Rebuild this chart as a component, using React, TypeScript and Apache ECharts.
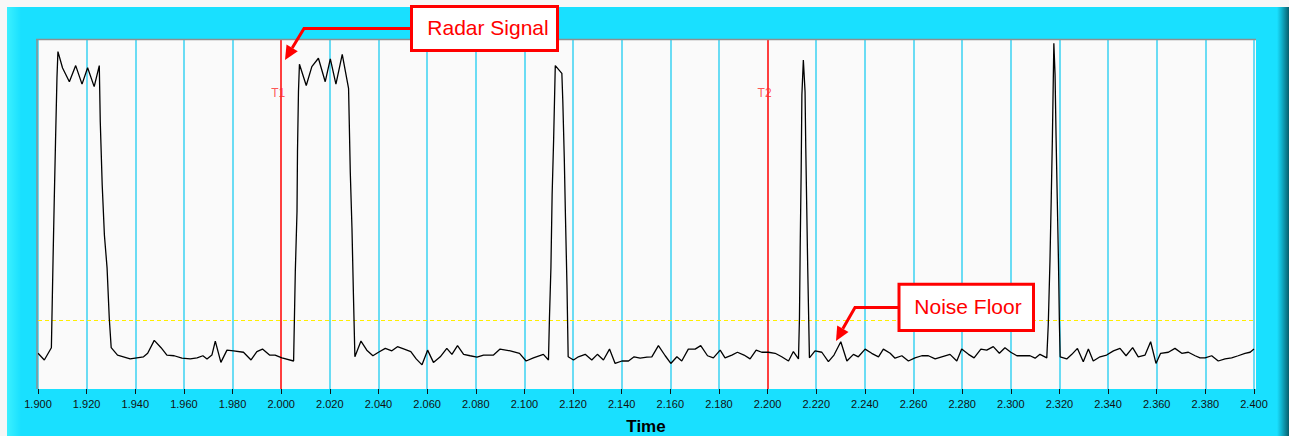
import React, { useEffect, useRef } from "react";
import * as echarts from "echarts";

// Sampled signal (time in s, amplitude in arbitrary units 0-100)
const TIME = [
  1.9, 1.9026, 1.9055, 1.9062, 1.9067, 1.9072, 1.9078, 1.9082, 1.9101, 1.9129,
  1.9155, 1.9181, 1.9204, 1.9231, 1.9252, 1.9256, 1.9264, 1.9273, 1.9284, 1.9293,
  1.9301, 1.9327, 1.9379, 1.9434, 1.9451, 1.9478, 1.9506, 1.953, 1.956, 1.9592,
  1.9626, 1.9654, 1.9678, 1.9695, 1.9715, 1.9729, 1.9752, 1.9777, 1.9804, 1.9845,
  1.9876, 1.99, 1.9923, 1.9952, 1.9975, 2.0003, 2.0051, 2.0058, 2.0065, 2.0067,
  2.0071, 2.0075, 2.0103, 2.0126, 2.0153, 2.0181, 2.0202, 2.0225, 2.0251, 2.0277,
  2.0284, 2.0291, 2.0297, 2.0303, 2.0328, 2.0352, 2.0377, 2.04, 2.0428, 2.0455,
  2.0478, 2.0506, 2.0533, 2.0555, 2.0579, 2.0602, 2.0626, 2.0654, 2.0681, 2.0702,
  2.0725, 2.075, 2.0777, 2.0805, 2.0832, 2.0873, 2.09, 2.0942, 2.098, 2.1007,
  2.1037, 2.1078, 2.1099, 2.1103, 2.1109, 2.1114, 2.112, 2.1127, 2.1154, 2.1158,
  2.1164, 2.1169, 2.1175, 2.118, 2.1202, 2.1222, 2.125, 2.1277, 2.13, 2.1325,
  2.135, 2.1373, 2.1401, 2.1428, 2.1451, 2.1476, 2.1504, 2.1524, 2.1551, 2.1579,
  2.1602, 2.1627, 2.1647, 2.1674, 2.1702, 2.1725, 2.1753, 2.1777, 2.1805, 2.1825,
  2.1853, 2.1876, 2.1903, 2.1928, 2.1953, 2.1976, 2.2003, 2.2031, 2.2058, 2.2086,
  2.2106, 2.2127, 2.2131, 2.2134, 2.2138, 2.2141, 2.2147, 2.2154, 2.2157, 2.2161,
  2.2165, 2.2172, 2.2195, 2.2223, 2.225, 2.2273, 2.2301, 2.2326, 2.2353, 2.2373,
  2.2401, 2.2428, 2.2456, 2.2476, 2.2504, 2.2524, 2.2552, 2.2579, 2.2606, 2.2634,
  2.2661, 2.2689, 2.2716, 2.275, 2.2778, 2.2798, 2.2826, 2.2849, 2.2877, 2.2901,
  2.2928, 2.2953, 2.2976, 2.3, 2.3025, 2.3052, 2.3079, 2.31, 2.312, 2.3148,
  2.3154, 2.3161, 2.3166, 2.3171, 2.3177, 2.3182, 2.3186, 2.3191, 2.3196, 2.32,
  2.3203, 2.323, 2.3251, 2.3274, 2.3298, 2.3319, 2.3339, 2.3367, 2.3394, 2.3422,
  2.3449, 2.3474, 2.3501, 2.3524, 2.3552, 2.3575, 2.3597, 2.3616, 2.3648, 2.3675,
  2.3703, 2.373, 2.3758, 2.3778, 2.3799, 2.3826, 2.3853, 2.3881, 2.3908, 2.3935,
  2.3963, 2.3984, 2.4,
];

const SIGNAL = [
  10.2, 8.3, 11.8, 37.4, 54.6, 70.6, 88.9, 96.4, 91.7, 87.8,
  92.4, 87.1, 91.8, 86.4, 92.4, 76.4, 58.3, 44.0, 34.6, 20.3,
  11.8, 9.7, 8.6, 9.2, 10.2, 13.9, 11.8, 9.7, 9.5, 8.8,
  8.6, 8.9, 9.5, 8.6, 9.7, 13.7, 7.6, 11.1, 10.9, 10.5,
  8.3, 10.7, 11.4, 9.7, 9.7, 8.9, 8.0, 33.5, 50.7, 67.8,
  84.9, 92.8, 86.7, 92.1, 94.5, 87.8, 94.3, 87.1, 95.6, 85.9,
  62.1, 45.9, 26.9, 9.2, 13.7, 11.1, 9.5, 10.5, 11.6, 10.9,
  12.1, 11.4, 10.7, 8.6, 6.9, 11.1, 7.6, 9.2, 11.6, 9.9,
  12.4, 9.9, 9.5, 9.1, 9.7, 9.7, 11.4, 10.9, 10.2, 8.0,
  8.9, 9.9, 8.3, 20.2, 34.5, 55.4, 70.7, 92.4, 90.2, 82.1,
  65.9, 48.8, 29.7, 9.2, 8.3, 9.2, 9.9, 8.3, 9.9, 8.3,
  11.4, 7.3, 8.0, 8.0, 9.2, 8.8, 9.1, 9.2, 12.4, 9.5,
  7.3, 9.2, 8.0, 11.4, 11.4, 12.4, 9.5, 8.9, 11.1, 8.9,
  9.7, 10.5, 9.7, 8.6, 11.1, 10.5, 10.5, 10.2, 9.2, 8.0,
  10.7, 8.6, 20.2, 40.2, 62.1, 84.0, 94.0, 84.9, 68.8, 51.6,
  34.5, 8.9, 10.9, 10.5, 7.8, 9.7, 13.5, 8.0, 9.9, 9.2,
  11.4, 10.2, 9.2, 11.4, 10.2, 8.8, 9.5, 8.0, 8.9, 9.5,
  9.5, 8.6, 9.2, 9.9, 8.0, 11.4, 9.9, 8.9, 11.4, 11.1,
  12.1, 10.2, 11.8, 10.5, 9.5, 9.5, 9.5, 8.8, 9.9, 8.9,
  18.3, 36.4, 53.5, 71.6, 98.8, 89.7, 72.6, 54.5, 36.4, 18.3,
  9.2, 8.6, 9.9, 11.6, 7.8, 11.4, 8.0, 9.2, 9.7, 10.9,
  11.6, 9.5, 11.8, 9.2, 9.7, 13.5, 7.3, 10.2, 10.5, 11.6,
  10.2, 10.5, 9.5, 8.9, 8.9, 9.5, 8.0, 8.6, 8.9, 9.5,
  10.2, 10.5, 11.4,
];

const CURSOR_TIMES = [2.0, 2.2];
const CURSOR_LABELS = ["T1", "T2"];
const CURSOR_LABEL_LEVEL = 84.6;
const NOISE_FLOOR = 19.57;
const X_MIN = 1.9;
const X_MAX = 2.4;
const X_STEP = 0.02;
const X_NAME = "Time";
const CALLOUT_SIGNAL = "Radar Signal";
const CALLOUT_NOISE = "Noise Floor";

const FONT = '"Liberation Sans", Arial, Helvetica, sans-serif';
const CYAN = "#19e0ff";
const GRIDLINE = "#3ad2f2";
const RED = "#ff0000";

export default function App() {
  const ref = useRef<HTMLDivElement>(null);

  useEffect(() => {
    if (!ref.current) return;
    const chart = echarts.init(ref.current, undefined, { renderer: "svg" });

    const signalData = TIME.map((t, i) => [t, SIGNAL[i]]);
    const cursorLabelData = CURSOR_TIMES.map((t, i) => [t, CURSOR_LABEL_LEVEL, CURSOR_LABELS[i]]);

    // grid line colours: hidden where a cursor line replaces them
    const nTicks = Math.round((X_MAX - X_MIN) / X_STEP) + 1;
    const cursorIdx = CURSOR_TIMES.map((t) => Math.round((t - X_MIN) / X_STEP));
    const splitColors = Array.from({ length: nTicks }, (_, i) =>
      cursorIdx.includes(i) ? "rgba(0,0,0,0)" : GRIDLINE
    );

    const option: any = {
      animation: false,
      backgroundColor: "#f7f7f7",
      grid: {
        left: 38,
        top: 39,
        width: 1216,
        height: 350,
        show: true,
        backgroundColor: "#fafafa",
        borderWidth: 0,
        containLabel: false,
        outerBoundsMode: "none",
      },
      xAxis: {
        type: "value",
        min: X_MIN,
        max: X_MAX,
        interval: X_STEP,
        offset: 3,
        axisLine: { show: false },
        axisTick: { show: true, length: 5, lineStyle: { color: "#111", width: 1 } },
        axisLabel: {
          formatter: (v: number) => v.toFixed(3),
          fontFamily: FONT,
          fontSize: 11,
          color: "#111",
          margin: 6,
        },
        splitLine: { show: true, lineStyle: { color: splitColors, width: 1.5 } },
        name: X_NAME,
        nameLocation: "middle",
        nameGap: 26,
        nameTextStyle: { fontFamily: FONT, fontSize: 17, fontWeight: "bold", color: "#000" },
      },
      yAxis: {
        type: "value",
        min: 0,
        max: 100,
        show: false,
        splitLine: { show: false },
      },
      series: [
        {
          name: "noise floor",
          type: "line",
          data: [],
          silent: true,
          z: 3,
          markLine: {
            silent: true,
            symbol: "none",
            label: { show: false },
            lineStyle: { color: "#ffee00", width: 1.2, type: [4, 3], opacity: 1 },
            emphasis: { disabled: true },
            data: [{ yAxis: NOISE_FLOOR }],
          },
        },
        {
          name: "cursors",
          type: "line",
          data: [],
          silent: true,
          z: 3,
          markLine: {
            silent: true,
            symbol: "none",
            label: { show: false },
            lineStyle: { color: RED, width: 1.5, type: "solid", opacity: 1 },
            emphasis: { disabled: true },
            data: CURSOR_TIMES.map((t) => ({ xAxis: t })),
          },
        },
        {
          name: "signal",
          type: "line",
          data: signalData,
          showSymbol: false,
          symbol: "none",
          clip: true,
          lineStyle: { color: "#000000", width: 1.3 },
          z: 5,
        },
        {
          type: "scatter",
          data: cursorLabelData,
          symbolSize: 0,
          silent: true,
          z: 6,
          label: {
            show: true,
            position: "inside",
            offset: [-3, 0],
            formatter: (p: any) => p.data[2],
            color: "#ff2a2a",
            fontFamily: FONT,
            fontSize: 12,
          },
        },
      ],
      graphic: [
        // cyan panel
        { type: "rect", z: -10, shape: { x: 7, y: 7, width: 1282, height: 429 }, style: { fill: CYAN } },
        {
          type: "rect",
          z: -9,
          shape: { x: 7, y: 7, width: 14, height: 429 },
          style: {
            fill: new echarts.graphic.LinearGradient(0, 0, 1, 0, [
              { offset: 0, color: "#3cf0ff" },
              { offset: 1, color: CYAN },
            ]),
          },
        },
        {
          type: "rect",
          z: -9,
          shape: { x: 1277, y: 7, width: 12, height: 429 },
          style: {
            fill: new echarts.graphic.LinearGradient(0, 0, 1, 0, [
              { offset: 0, color: CYAN },
              { offset: 0.4, color: "#10b0ca" },
              { offset: 1, color: "#085e6c" },
            ]),
          },
        },
        // plot area extension and sunken border
        { type: "rect", z: -5, shape: { x: 1254, y: 39, width: 2, height: 350 }, style: { fill: "#fafafa" } },
        { type: "line", z: 50, shape: { x1: 36, y1: 39.5, x2: 1256, y2: 39.5 }, style: { stroke: "#8f8f8f", lineWidth: 1.5 } },
        { type: "line", z: 50, shape: { x1: 37, y1: 39, x2: 37, y2: 389 }, style: { stroke: "#8f8f8f", lineWidth: 1.5 } },
        // Radar Signal callout
        {
          type: "polyline",
          z: 100,
          shape: { points: [[411, 28.5], [304, 28.5], [292.2, 48]] },
          style: { stroke: RED, lineWidth: 3, fill: null },
        },
        {
          type: "polygon",
          z: 100,
          shape: { points: [[285, 60], [297.8, 51.3], [286.5, 44.6]] },
          style: { fill: RED },
        },
        {
          type: "rect",
          z: 100,
          shape: { x: 411.5, y: 6.5, width: 146, height: 44 },
          style: { fill: "#ffffff", stroke: RED, lineWidth: 3 },
        },
        {
          type: "text",
          z: 101,
          style: {
            text: CALLOUT_SIGNAL,
            x: 488,
            y: 27,
            align: "center",
            verticalAlign: "middle",
            fill: RED,
            font: `21px ${FONT}`,
          },
        },
        // Noise Floor callout
        {
          type: "polyline",
          z: 100,
          shape: { points: [[899, 307.5], [855, 307.5], [842.8, 328.8]] },
          style: { stroke: RED, lineWidth: 3, fill: null },
        },
        {
          type: "polygon",
          z: 100,
          shape: { points: [[836, 341], [848.5, 332], [837.2, 325.6]] },
          style: { fill: RED },
        },
        {
          type: "rect",
          z: 100,
          shape: { x: 899, y: 284.2, width: 134.5, height: 46.3 },
          style: { fill: "#ffffff", stroke: RED, lineWidth: 3 },
        },
        {
          type: "text",
          z: 101,
          style: {
            text: CALLOUT_NOISE,
            x: 968,
            y: 306,
            align: "center",
            verticalAlign: "middle",
            fill: RED,
            font: `21px ${FONT}`,
          },
        },
      ],
    };

    chart.setOption(option);
    return () => chart.dispose();
  }, []);

  return (
    <div
      ref={ref}
      style={{ position: "absolute", left: 0, top: 0, width: 1289, height: 436 }}
    />
  );
}
